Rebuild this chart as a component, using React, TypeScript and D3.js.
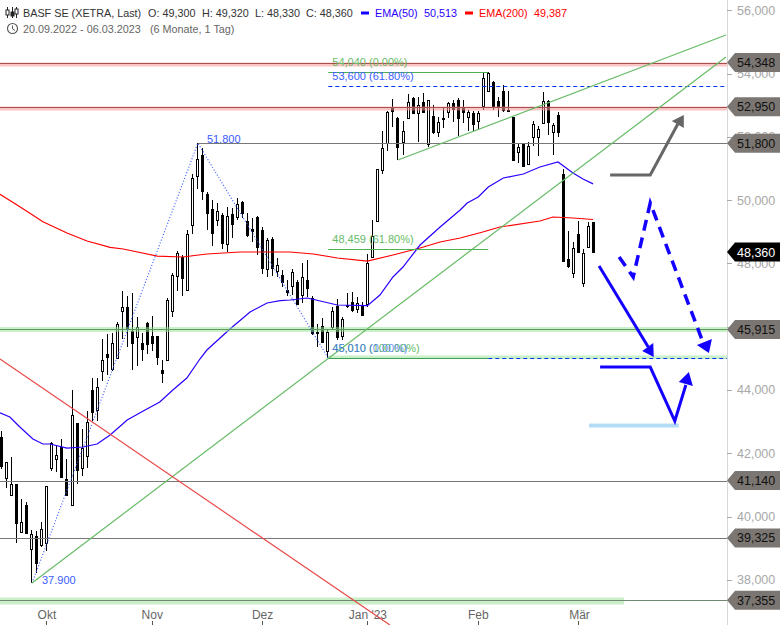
import React from "react";
import * as d3 from "d3";

const opens = [
  42520, 41210, 40680, 41020, 39490, 40370, 38980, 39400, 39110, 39170,
  41510, 41810, 42210, 41180, 40360, 42950, 41540, 41890, 44000, 43350,
  44580, 45140, 44650, 45000, 46470, 46610, 45860, 45680, 45480, 46110,
  45700, 45700, 44630, 44930, 46500, 47610, 48210, 47140, 49210, 50740,
  51420, 50190, 49720, 49350, 49530, 48640, 49560, 49470, 49930, 49330,
  49090, 49480, 49050, 47810, 48770, 47750, 47630, 47160, 47290, 47400,
  47000, 47480, 46900, 45820, 46020, 45210, 46000, 46660, 45680, 46690,
  46790, 46580, 46650, 46690, 48210, 49340, 50930, 51800, 52950, 52600,
  51840, 52600, 53220, 52760, 53110, 51770, 52660, 52130, 52600, 52760,
  53060, 53160, 52950, 52620, 52740, 52490, 52970, 53460, 53720, 53140,
  53450, 52860, 52630, 51500, 51770, 51140, 51980, 52000, 52450, 53130,
  52160, 52690, 50810, 48130, 47690, 48930, 47370, 48530, 49300,
];
const highs = [
  42710, 41710, 41870, 41030, 40550, 40470, 39580, 39540, 39840, 40970,
  42360, 42230, 42450, 41820, 44000, 42960, 42770, 43340, 44380, 44370,
  45600, 45770, 45800, 46160, 47120, 46970, 47060, 46320, 45800, 46160,
  46340, 45710, 44950, 46910, 47710, 48380, 48270, 49060, 50820, 51800,
  51650, 50270, 50000, 49920, 49580, 49780, 49750, 50060, 49970, 49580,
  49430, 49500, 49160, 48790, 48840, 48160, 47790, 47480, 47810, 47480,
  48000, 48110, 46970, 46080, 46270, 45900, 46630, 46870, 46320, 47070,
  47110, 46930, 46790, 48290, 49370, 50970, 52180, 52820, 53190, 52640,
  52500, 53350, 53250, 53270, 53380, 53160, 53000, 52620, 52950, 53110,
  53160, 53220, 53160, 52850, 52820, 52820, 54020, 54040, 53770, 53260,
  53640, 53450, 52640, 51800, 51810, 51830, 52510, 52340, 53410, 53160,
  52430, 52770, 50980, 49020, 48690, 49340, 48460, 49300, 49320,
];
const lows = [
  41500, 40910, 40660, 39160, 39480, 39450, 37900, 38210, 39050, 38920,
  41450, 41420, 41210, 40680, 40350, 41030, 41280, 41540, 43030, 43020,
  44290, 44470, 44600, 44980, 45610, 45370, 44630, 44760, 44930, 45140,
  45240, 44790, 44230, 44920, 46320, 47140, 46980, 47130, 48930, 50350,
  50000, 49060, 48560, 49180, 48460, 48360, 48800, 49370, 49430, 48830,
  48690, 48270, 47670, 47580, 47610, 47580, 47260, 46980, 47000, 46680,
  46740, 46950, 45740, 45370, 45520, 45010, 45900, 45580, 45580, 46580,
  46470, 46420, 46360, 46610, 48210, 49340, 50820, 51550, 52320, 51270,
  51420, 52560, 52710, 51850, 52740, 51690, 52090, 51980, 52280, 52580,
  52480, 52030, 52450, 52180, 52180, 52250, 52850, 53450, 52850, 52640,
  52790, 52770, 51260, 51180, 51050, 51110, 51710, 51390, 52400, 52060,
  51420, 52000, 48050, 47840, 47550, 48320, 47240, 48520, 48330,
];
const closes = [
  41600, 41710, 41020, 39790, 39820, 39470, 39440, 38550, 39600, 40960,
  42310, 41940, 41260, 40680, 43200, 41450, 42180, 42980, 43310, 44080,
  44940, 45040, 45480, 46080, 46610, 45920, 45490, 46000, 45300, 45440,
  45490, 45050, 44550, 46840, 47630, 48340, 47550, 48920, 50690, 51290,
  50290, 49580, 48950, 49650, 48650, 49510, 49250, 49890, 49580, 48890,
  49020, 48530, 47850, 48740, 47850, 47940, 47420, 47100, 47720, 46690,
  47560, 47240, 45790, 45790, 45530, 45820, 46500, 45680, 46230, 46650,
  46530, 46760, 46370, 48000, 48860, 50970, 51640, 52790, 52820, 51690,
  52180, 53090, 52760, 53000, 52790, 53150, 52160, 52460, 52570, 53060,
  52870, 52600, 52790, 52780, 52400, 52740, 53850, 54030, 52970, 52950,
  52850, 52850, 51270, 51670, 51060, 51710, 52400, 52240, 53130, 52480,
  52370, 52160, 48050, 47900, 48480, 48370, 48320, 49180, 48360,
];

const ema50Index = [-0.26, 1.7, 3.7, 6.3, 8.3, 9.7, 13.1, 16.3, 19.1, 21.7, 25.1, 28.3, 31.6, 34.2, 37, 39.6, 41, 45.6, 49.6, 53, 55.6, 57.6, 61, 63.6, 67, 73, 75.5, 78.1, 80.1, 83.5, 87.5, 91.5, 92.9, 95.1, 97.1, 100.1, 104.1, 107.4, 111, 114, 116, 118];
const ema50Values = [43282, 43146, 42830, 42450, 42293, 42293, 42166, 42198, 42293, 42577, 43051, 43335, 43620, 44000, 44378, 44979, 45263, 45927, 46464, 46748, 46821, 46843, 46906, 46811, 46685, 46663, 47001, 47570, 47886, 48581, 49150, 49687, 49908, 50098, 50414, 50698, 50825, 51046, 51204, 50856, 50667, 50513];
const ema200Index = [-0.26, 3.7, 8.3, 13.1, 17.1, 21.7, 24.3, 31.1, 36.2, 41, 47.6, 57.6, 62.2, 67, 73, 78.1, 83.5, 87.5, 91.5, 96, 99.4, 107.4, 110, 114, 118];
const ema200Values = [50183, 49791, 49317, 48960, 48707, 48508, 48455, 48233, 48202, 48297, 48360, 48360, 48297, 48170, 48075, 48265, 48486, 48676, 48802, 48992, 49150, 49339, 49466, 49434, 49387];

const priceTicks = [56000, 54000, 52000, 50000, 48000, 46000, 44000, 42000, 40000, 38000];
const monthIndex = [9, 30, 52, 73, 95, 115];
const monthLabels = ["Okt", "Nov", "Dez", "Jan '23", "Feb", "Mär"];
const greyTagLevels = [54348, 52950, 51800, 45915, 41140, 39325, 37355];
const lastClose = 48360;

const zigzagIndex = [6.12, 39.2, 65.2];
const zigzagPrice = [37900, 51800, 45010];
const longTrendIndex = [6.12, 144.5];
const longTrendPrice = [37900, 54522];
const upperTrendIndex = [79.1, 144.5];
const upperTrendPrice = [51267, 55217];
const redTrendIndex = [-0.26, 77.5];
const redTrendPrice = [44979, 36573];

const greyPathIndex = [121.4, 129.4, 134.9];
const greyPathPrice = [50793, 50793, 52405];
const greyHeadIndex = [136.1, 133.7, 136.1];
const greyHeadPrice = [52689, 52499, 52278];
const dashPathIndex = [123.2, 126, 129.4, 139.9];
const dashPathPrice = [48202, 47570, 49908, 45516];
const dashHeadIndex = [141.1, 138.7, 141.7];
const dashHeadPrice = [45168, 45421, 45611];
const solidAIndex = [119.2, 129];
const solidAPrice = [47917, 45358];
const solidAHeadIndex = [130.1, 127.8, 130];
const solidAHeadPrice = [45042, 45231, 45484];
const solidBIndex = [119.4, 129.4, 134.3, 136.5];
const solidBPrice = [44726, 44726, 43020, 44157];
const solidBHeadIndex = [137.1, 135.1, 137.9];
const solidBHeadPrice = [44568, 44252, 44125];
const targetBarIndex = [117.2, 135.1];
const targetBarPrice = 42877;

const x = d3.scaleLinear().domain([0, 118]).range([1.3, 593.07]);
const y = d3.scaleLinear().domain([54348, 37355]).range([62.5, 600.3]);
const axisX = 727;
const leftEdge = -0.26;
const rightEdge = x.invert(axisX);

const FONT = "'Liberation Sans', Arial, sans-serif";
const linePath = (xs: number[], ys: number[]) =>
  d3.line<number>().x((d) => x(xs[d])).y((d) => y(ys[d]))(d3.range(xs.length)) as string;

function Head({ xs, ys, fill }: { xs: number[]; ys: number[]; fill: string }) {
  return <path d={linePath(xs, ys) + "Z"} fill={fill} />;
}

function Level({ price, from, band, bandOffset, bandH, bandTo, color, dash, to }: any) {
  const py = Math.round(y(price)) + 0.5;
  const x0 = x(from ?? leftEdge);
  const x1 = x(to ?? rightEdge);
  return (
    <g>
      {band && (
        <rect x={x0} width={x(bandTo ?? rightEdge) - x0} y={py + bandOffset} height={bandH} fill={band} />
      )}
      <line x1={x0} x2={x1} y1={py} y2={py} stroke={color} strokeWidth={1} strokeDasharray={dash} />
    </g>
  );
}

function Tag({ price, fill, color }: { price: number; fill: string; color: string }) {
  const c = y(price);
  const h = 9.5;
  return (
    <g>
      <path d={`M${axisX},${c}L${axisX + 8},${c - h}H780V${c + h}H${axisX + 8}Z`} fill={fill} />
      <text x={737} y={c + 4.5} fontSize={12.5} fill={color} fontFamily={FONT}>
        {d3.format(",")(price)}
      </text>
    </g>
  );
}

export default function App() {
  const idx = d3.range(opens.length);
  return (
    <svg
      width={780}
      height={625}
      viewBox="0 0 780 625"
      style={{ position: "absolute", left: 0, top: 0, background: "#fff" }}
      fontFamily={FONT}
    >
      <rect x={axisX} width={1} y={0} height={625} fill="#d8d8d8" />
      {priceTicks.map((p) => (
        <g key={p}>
          <line x1={axisX} x2={axisX + 5} y1={Math.round(y(p)) + 0.5} y2={Math.round(y(p)) + 0.5} stroke="#aaa" />
          <text x={737} y={y(p) + 4.5} fontSize={12.5} fill="#a8a8a8">
            {d3.format(",")(p)}
          </text>
        </g>
      ))}
      {monthIndex.map((m, i) => (
        <g key={m}>
          <line x1={Math.round(x(m)) + 0.5} x2={Math.round(x(m)) + 0.5} y1={621} y2={625} stroke="#555" />
          <text x={x(m) + (i === 5 ? 1.5 : 0.5)} y={619} textAnchor="middle" fontSize={12} fill="#666">
            {monthLabels[i]}
          </text>
        </g>
      ))}

      {idx.map((i) => {
        const up = closes[i] >= opens[i];
        const cx = Math.round(x(i));
        const top = y(Math.max(opens[i], closes[i]));
        const bottom = y(Math.min(opens[i], closes[i]));
        return (
          <g key={i} shapeRendering="crispEdges">
            <line x1={cx + 0.5} x2={cx + 0.5} y1={y(highs[i])} y2={y(lows[i])} stroke="#000" />
            <rect
              x={cx - 0.5}
              y={Math.round(top) + 0.5}
              width={2}
              height={Math.max(1, Math.round(bottom - top))}
              fill={up ? "#fff" : "#000"}
              stroke="#000"
            />
          </g>
        );
      })}

      <path d={linePath(ema200Index, ema200Values)} fill="none" stroke="#ff0000" strokeWidth={1.2} />
      <path d={linePath(ema50Index, ema50Values)} fill="none" stroke="#2a00ff" strokeWidth={1.2} />

      <Level price={54348} band="rgba(250,150,150,0.55)" bandOffset={-1} bandH={4} color="#a55050" />
      <Level price={52950} band="rgba(250,150,150,0.55)" bandOffset={-1} bandH={4} color="#a55050" />
      <Level price={51800} from={39.2} color="#777" />
      <Level price={45915} band="rgba(150,225,150,0.5)" bandOffset={-2.5} bandH={5} color="#5a9a5a" />
      <Level price={41140} color="#777" />
      <Level price={39325} color="#777" />
      <Level price={37355} band="rgba(150,225,150,0.5)" bandOffset={-3} bandH={7} bandTo={124.2} color="#6f8a6f" />
      <Level price={54040} from={65.2} to={97.1} color="#4caf50" />
      <Level price={53600} from={65.2} color="#0033ee" dash="4,3" />
      <Level price={48459} from={65.2} to={97.1} color="#4caf50" />
      <Level price={45010} from={65.2} band="rgba(150,225,150,0.5)" bandOffset={-3} bandH={3.5} to={97.1} color="#3f9f4f" />
      <Level price={45010} from={97.1} color="#0033ee" dash="4,3" />

      <path d={linePath(zigzagIndex, zigzagPrice)} fill="none" stroke="#3a5cff" strokeWidth={1.2} strokeDasharray="1,2" />
      <path d={linePath(longTrendIndex, longTrendPrice)} fill="none" stroke="#66bb66" strokeWidth={1.2} />
      <path d={linePath(upperTrendIndex, upperTrendPrice)} fill="none" stroke="#66bb66" strokeWidth={1.2} />
      <path d={linePath(redTrendIndex, redTrendPrice)} fill="none" stroke="#e84c4c" strokeWidth={1.2} />

      <g fontSize={11}>
        <text x={x(65.2) + 4} y={y(54040) - 6} fill="#66bb66">54,040 (0.00%)</text>
        <text x={x(65.2) + 4} y={y(53600) - 6} fill="#3a5cff">53,600 (61.80%)</text>
        <text x={x(65.2) + 4} y={y(48459) - 6} fill="#66bb66">48,459 (61.80%)</text>
        <text x={x(65.2) + 4} y={y(45010) - 6} fill="#66bb66">45,010 (100.00%)</text>
        <text x={x(65.2) + 4} y={y(45010) - 6} fill="#3a6cff" fillOpacity={0.75}>45,010 (0.00%)</text>
        <text x={x(39.2) + 9} y={y(51800)} fill="#3a5cff">51.800</text>
        <text x={x(6.12) + 10} y={y(37900) + 1} fill="#3a5cff">37.900</text>
      </g>

      <rect
        x={x(targetBarIndex[0])}
        width={x(targetBarIndex[1]) - x(targetBarIndex[0])}
        y={y(targetBarPrice) - 2}
        height={4}
        fill="#b3dcf5"
      />
      <g fill="none" strokeLinejoin="miter">
        <path d={linePath(greyPathIndex, greyPathPrice)} stroke="#666" strokeWidth={3} />
        <path d={linePath(solidAIndex, solidAPrice)} stroke="#1400ff" strokeWidth={3} />
        <path d={linePath(solidBIndex, solidBPrice)} stroke="#1400ff" strokeWidth={3} />
        <path d={linePath(dashPathIndex, dashPathPrice)} stroke="#1400ff" strokeWidth={3.5} strokeDasharray="11,7" />
      </g>
      <Head xs={greyHeadIndex} ys={greyHeadPrice} fill="#666" />
      <Head xs={dashHeadIndex} ys={dashHeadPrice} fill="#1400ff" />
      <Head xs={solidAHeadIndex} ys={solidAHeadPrice} fill="#1400ff" />
      <Head xs={solidBHeadIndex} ys={solidBHeadPrice} fill="#1400ff" />

      {greyTagLevels.map((p) => (
        <Tag key={p} price={p} fill="#7b7672" color="#111" />
      ))}
      <Tag price={lastClose} fill="#000" color="#fff" />

      <g stroke="#222" strokeWidth={1} fill="none">
        <path d="M7.5,7V18M12.5,7V18M16.5,7V18" />
        <rect x={6} y={10} width={3} height={5} fill="#fff" />
        <rect x={11} y={12} width={3} height={4} fill="#222" />
        <rect x={15} y={9} width={3} height={5} fill="#fff" />
      </g>
      <g stroke="#555" fill="none">
        <circle cx={12.5} cy={28.5} r={5} strokeWidth={1.1} />
        <path d="M12.5,25.5V28.8L15,30.5" strokeWidth={1} />
      </g>
      <g fontSize={10.8} fill="#333">
        <text x={23} y={17}>BASF SE (XETRA, Last)</text>
        <text x={148} y={17}>O: 49,300</text>
        <text x={202} y={17}>H: 49,320</text>
        <text x={255} y={17}>L: 48,330</text>
        <text x={306} y={17}>C: 48,360</text>
      </g>
      <rect x={361} y={11.5} width={8} height={3} fill="#1400ff" />
      <text x={375} y={17} fontSize={10.8} fill="#2a00ff">EMA(50)</text>
      <text x={424} y={17} fontSize={10.8} fill="#2a00ff">50,513</text>
      <rect x={465} y={11.5} width={8} height={3} fill="#ff0000" />
      <text x={479} y={17} fontSize={10.8} fill="#ff0000">EMA(200)</text>
      <text x={534} y={17} fontSize={10.8} fill="#ff0000">49,387</text>
      <text x={23} y={33} fontSize={10.8} fill="#666">20.09.2022 - 06.03.2023</text>
      <text x={150} y={33} fontSize={10.8} fill="#666">(6 Monate, 1 Tag)</text>
    </svg>
  );
}
